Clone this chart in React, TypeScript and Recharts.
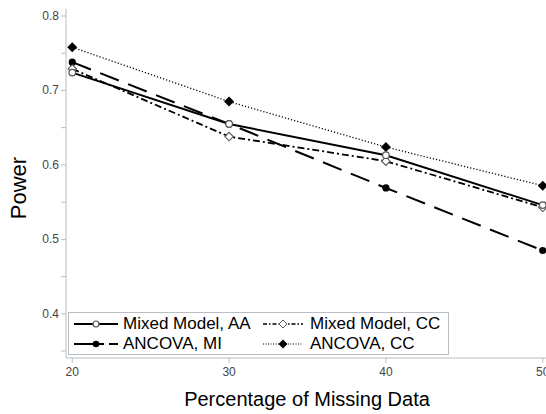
import React from "react";
import { LineChart, Line, XAxis, YAxis } from "recharts";

const missingPct = [20, 30, 40, 50];
const mixedAA = [0.724, 0.655, 0.613, 0.546];
const mixedCC = [0.729, 0.638, 0.605, 0.543];
const ancovaMI = [0.738, 0.655, 0.569, 0.485];
const ancovaCC = [0.758, 0.685, 0.624, 0.572];

const xTicks = [20, 30, 40, 50];
const yTicks = [0.35, 0.4, 0.45, 0.5, 0.55, 0.6, 0.65, 0.7, 0.75, 0.8];
const yMajor = [0.4, 0.5, 0.6, 0.7, 0.8];

const data = missingPct.map((p, i) => ({
  pct: p,
  mixedAA: mixedAA[i],
  mixedCC: mixedCC[i],
  ancovaMI: ancovaMI[i],
  ancovaCC: ancovaCC[i],
}));

const FONT = "'Liberation Sans', Arial, sans-serif";
const FRAME = "#b8bec2";

const OpenCircle = (props: any) => {
  const { cx, cy, key } = props;
  return <circle key={key} cx={cx} cy={cy} r={3.3} fill="#fff" stroke="#555" strokeWidth={1.2} />;
};
const FilledCircle = (props: any) => {
  const { cx, cy, key } = props;
  return <circle key={key} cx={cx} cy={cy} r={3.6} fill="#000" />;
};
const OpenDiamond = (props: any) => {
  const { cx, cy, key } = props;
  const s = 4.2;
  return (
    <path
      key={key}
      d={`M${cx},${cy - s} L${cx + s},${cy} L${cx},${cy + s} L${cx - s},${cy} Z`}
      fill="#fff"
      stroke="#555"
      strokeWidth={1.1}
    />
  );
};
const FilledDiamond = (props: any) => {
  const { cx, cy, key } = props;
  const s = 5;
  return (
    <path
      key={key}
      d={`M${cx},${cy - s} L${cx + s},${cy} L${cx},${cy + s} L${cx - s},${cy} Z`}
      fill="#000"
    />
  );
};

const YTick = (props: any) => {
  const { x, y, payload } = props;
  const major = yMajor.some((m) => Math.abs(m - payload.value) < 1e-6);
  if (!major) return <g />;
  return (
    <text x={x} y={y} dy={4} textAnchor="end" fontSize={12} fill="#444" fontFamily={FONT}>
      {payload.value.toFixed(1)}
    </text>
  );
};

// axis titles drawn at fixed spots, like the SAS output
const YLabel = () => {
  const cx = 18;
  const cy = 188;
  return (
    <text
      x={cx}
      y={cy}
      transform={`rotate(-90 ${cx} ${cy})`}
      textAnchor="middle"
      dominantBaseline="central"
      fontSize={22}
      fill="#000"
      fontFamily={FONT}
    >
      Power
    </text>
  );
};

const XLabel = () => (
  <text x={307} y={399} textAnchor="middle" dominantBaseline="central" fontSize={20} fill="#000" fontFamily={FONT}>
    Percentage of Missing Data
  </text>
);

const sample = (dash: string | undefined, marker: React.ReactNode, w: number, sw: number) => (
  <svg width={w} height={14} style={{ display: "block" }}>
    <line x1={0} y1={7} x2={w} y2={7} stroke="#000" strokeWidth={sw} strokeDasharray={dash} />
    {marker}
  </svg>
);

const LegendBox = () => {
  const row: React.CSSProperties = { display: "flex", alignItems: "center", height: 20 };
  const txt: React.CSSProperties = { fontSize: 17, fontFamily: FONT, color: "#000", marginLeft: 5, whiteSpace: "nowrap" };
  return (
    <div
      style={{
        position: "absolute",
        left: 68,
        top: 312,
        border: `1px solid ${FRAME}`,
        background: "#fff",
        width: 381,
        height: 43,
        boxSizing: "border-box",
        padding: "1px 0 0 5px",
        display: "grid",
        gridTemplateColumns: "189px 190px",
      }}
    >
      <div style={row}>
        {sample(undefined, <circle cx={22} cy={7} r={3} fill="#fff" stroke="#555" strokeWidth={1.2} />, 44, 2)}
        <span style={txt}>Mixed Model, AA</span>
      </div>
      <div style={row}>
        {sample("4 2 1.5 2", <path d="M20,3 L24,7 L20,11 L16,7 Z" fill="#fff" stroke="#555" strokeWidth={1} />, 40, 1.5)}
        <span style={{ ...txt, marginLeft: 7 }}>Mixed Model, CC</span>
      </div>
      <div style={row}>
        {sample("30 5 9", <circle cx={22} cy={7} r={3.3} fill="#000" />, 44, 2)}
        <span style={txt}>ANCOVA, MI</span>
      </div>
      <div style={row}>
        {sample("1 1.5", <path d="M20,2.5 L24.5,7 L20,11.5 L15.5,7 Z" fill="#000" />, 40, 1)}
        <span style={{ ...txt, marginLeft: 7 }}>ANCOVA, CC</span>
      </div>
    </div>
  );
};

export default function App() {
  return (
    <div
      style={{
        position: "fixed",
        left: 0,
        top: 0,
        width: 546,
        height: 414,
        overflow: "hidden",
        background: "#fff",
      }}
    >
      <LineChart
        width={560}
        height={414}
        data={data}
        margin={{ top: 9, right: 11, bottom: 0, left: 0 }}
      >
        <XAxis
          dataKey="pct"
          type="number"
          domain={[19.6, 50.4]}
          ticks={xTicks}
          allowDataOverflow
          stroke={FRAME}
          tickSize={5}
          tick={{ fontSize: 12, fill: "#444", fontFamily: FONT, dy: 2 }}
          height={56}
          label={<XLabel />}
        />
        <XAxis
          xAxisId="top"
          orientation="top"
          dataKey="pct"
          type="number"
          domain={[19.6, 50.4]}
          tick={false}
          tickLine={false}
          stroke={FRAME}
          height={0}
        />
        <YAxis
          type="number"
          domain={[0.3406, 0.8094]}
          ticks={yTicks}
          allowDataOverflow
          stroke={FRAME}
          tickSize={5}
          tick={<YTick />}
          width={66}
          label={<YLabel />}
        />
        <Line
          dataKey="ancovaCC"
          name="ANCOVA, CC"
          stroke="#000"
          strokeWidth={1.3}
          strokeDasharray="1.2 2"
          dot={FilledDiamond}
          isAnimationActive={false}
        />
        <Line
          dataKey="ancovaMI"
          name="ANCOVA, MI"
          stroke="#000"
          strokeWidth={2}
          strokeDasharray="20 10"
          dot={FilledCircle}
          isAnimationActive={false}
        />
        <Line
          dataKey="mixedCC"
          name="Mixed Model, CC"
          stroke="#000"
          strokeWidth={1.8}
          strokeDasharray="7 3 2 3"
          dot={OpenDiamond}
          isAnimationActive={false}
        />
        <Line
          dataKey="mixedAA"
          name="Mixed Model, AA"
          stroke="#000"
          strokeWidth={2}
          dot={OpenCircle}
          isAnimationActive={false}
        />
      </LineChart>
      <LegendBox />
    </div>
  );
}
